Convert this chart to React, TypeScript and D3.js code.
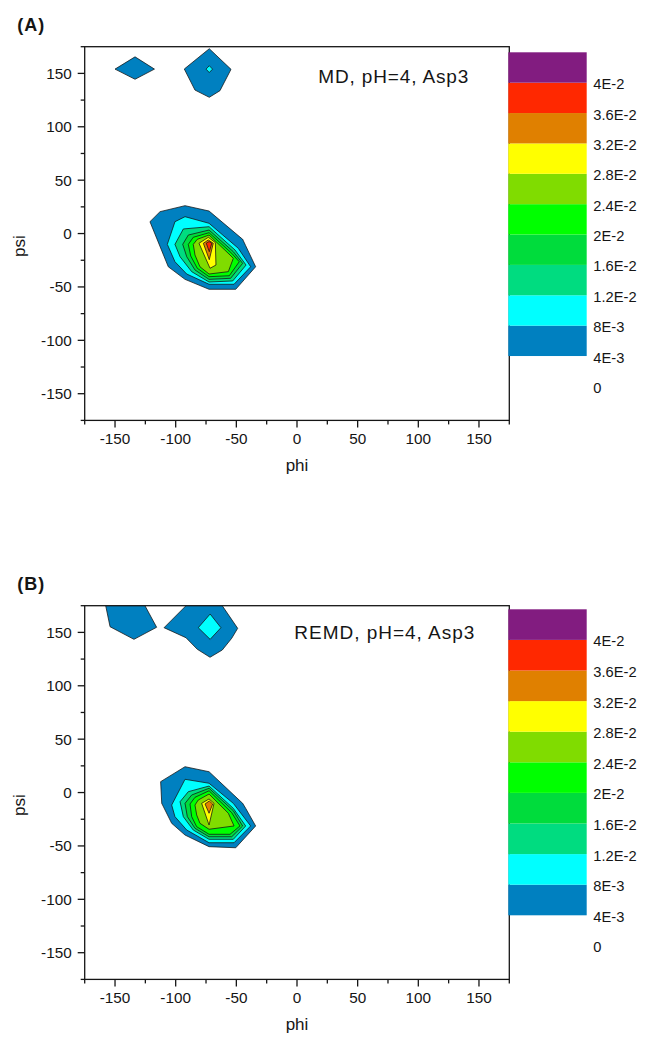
import React from "react";
import * as d3 from "d3";

type Pt = [number, number];

// contour levels, labels and fill colours (level 0 is unfilled)
const levels = [0, 0.004, 0.008, 0.012, 0.016, 0.02, 0.024, 0.028, 0.032, 0.036, 0.04];
const levelLabels = ["0", "4E-3", "8E-3", "1.2E-2", "1.6E-2", "2E-2", "2.4E-2", "2.8E-2", "3.2E-2", "3.6E-2", "4E-2"];
const levelColors = ["#ffffff", "#0080c0", "#00ffff", "#00dc80", "#00dc3c", "#00ff00", "#80dc00", "#ffff00", "#e08000", "#ff2800", "#821c80"];

const majorTicks = [-150, -100, -50, 0, 50, 100, 150];
const minorTicks = [-175, -125, -75, -25, 25, 75, 125, 175];

// ---------- Panel A : MD ----------
const mdTopLeft: Pt[] = [[-150, 154], [-133.5, 165.5], [-117.5, 154], [-133.5, 144.5]];
const mdTopMid: Pt[] = [[-92.9, 154.1], [-72.3, 173.1], [-54.4, 153.8], [-63.5, 133.8], [-72.3, 127.6], [-84.1, 134.4]];
const mdTopMidCore: Pt[] = [[-75.0, 154], [-72.3, 157.2], [-69.6, 154], [-72.3, 150.8]];
const mdL1: Pt[] = [[-121.2, 11.1], [-112.9, 20.5], [-92.3, 26.1], [-72.5, 21.1], [-44.8, -5.4], [-42.3, -11.4], [-34.1, -31.1], [-50.5, -52.2], [-72.5, -52.2], [-92.3, -42.9], [-106.1, -31.1]];
const mdL2: Pt[] = [[-106.9, -10.1], [-100.6, 11.1], [-92.3, 15.8], [-72.5, 9.6], [-48.4, -13.8], [-38.2, -31.1], [-51.9, -47.5], [-72.5, -47.5], [-90.9, -37.9], [-100.6, -26.4]];
const mdL3: Pt[] = [[-100.6, -10.1], [-93.7, 4.3], [-72.5, 6.4], [-51.1, -15.4], [-42.0, -29.5], [-53.0, -44.4], [-72.5, -45.4], [-86.8, -35.7], [-96.4, -21.7]];
const mdL4: Pt[] = [[-94.2, -10.1], [-89.6, -1.4], [-72.5, 3.3], [-52.5, -17.0], [-44.8, -27.9], [-54.7, -41.9], [-72.5, -42.9], [-84.1, -34.1], [-90.9, -21.7]];
const mdL5: Pt[] = [[-89.6, -10.1], [-85.5, -3.5], [-72.5, 0.8], [-53.8, -18.5], [-47.6, -26.4], [-55.8, -39.5], [-72.5, -40.4], [-82.2, -32.5], [-87.6, -21.0]];
const mdL6: Pt[] = [[-85.5, -10.1], [-82.2, -5.4], [-72.5, -1.4], [-55.2, -20.1], [-52.5, -23.2], [-56.6, -35.7], [-72.5, -37.9], [-80.0, -31.1], [-84.1, -20.1]];
const mdL7: Pt[] = [[-80.8, -9.1], [-73.1, -3.5], [-67.3, -8.5], [-66.8, -29.5], [-71.7, -32.5]];
const mdL8: Pt[] = [[-77.2, -9.1], [-73.1, -6.0], [-69.0, -9.1], [-72.3, -24.5]];
const mdL9: Pt[] = [[-74.8, -9.0], [-72.5, -7.5], [-70.2, -9.0], [-72.3, -17.0]];

// ---------- Panel B : REMD ----------
const remdTopLeft: Pt[] = [[-158.6, 180], [-154.1, 155.3], [-134.4, 143.5], [-115.7, 154.8], [-127.7, 180]];
const remdTopMid: Pt[] = [[-109.6, 154.4], [-87.1, 180], [-64.6, 180], [-48.9, 153.8], [-53.8, 144.5], [-61.6, 133.5], [-71.7, 126.7], [-82.2, 134.2], [-91.5, 145]];
const remdTopMidCore: Pt[] = [[-81.4, 154.4], [-71.6, 167.2], [-62.7, 154.4], [-71.6, 143.5]];
const remdL1: Pt[] = [[-112.4, 10.2], [-92.3, 24.2], [-72.5, 19.5], [-44.8, -10.1], [-42.3, -14.8], [-34.1, -31.3], [-50.5, -51.7], [-72.5, -50.7], [-92.3, -39.8], [-103.3, -28.8], [-111.5, -10.1]];
const remdL2: Pt[] = [[-103.3, -11.7], [-92.3, 12.4], [-72.5, 8.7], [-52.5, -10.1], [-38.2, -31.3], [-51.9, -47.0], [-72.5, -47.0], [-90.9, -35.1], [-100.6, -22.6]];
const remdL3: Pt[] = [[-96.4, -8.6], [-89.6, 0.8], [-72.5, 6.1], [-52.5, -14.8], [-42.3, -31.3], [-52.5, -43.8], [-72.5, -43.8], [-85.5, -35.1], [-93.7, -22.6]];
const remdL4: Pt[] = [[-92.3, -10.1], [-86.8, -2.3], [-72.5, 4.0], [-52.5, -17.0], [-44.8, -31.3], [-53.8, -41.4], [-72.5, -41.4], [-84.1, -33.5], [-90.4, -22.6]];
const remdL5: Pt[] = [[-88.2, -10.7], [-84.1, -4.5], [-72.5, 1.7], [-53.8, -18.9], [-47.0, -31.3], [-55.2, -39.1], [-72.5, -39.1], [-82.7, -32.0], [-86.8, -22.6]];
const remdL6: Pt[] = [[-84.1, -11.7], [-81.4, -7.0], [-72.5, -1.4], [-56.6, -19.4], [-51.9, -31.3], [-72.5, -34.4], [-80.0, -28.8], [-82.7, -21.0]];
const remdL7: Pt[] = [[-78.6, -10.1], [-72.5, -6.0], [-68.4, -10.1], [-72.5, -30.4]];
const remdL8: Pt[] = [[-75.8, -10.7], [-72.3, -7.9], [-69.5, -10.7], [-72.5, -19.4]];

type Contour = { level: number; pts: Pt[] };

const mdContours: Contour[] = [
  { level: 1, pts: mdTopLeft }, { level: 1, pts: mdTopMid }, { level: 2, pts: mdTopMidCore },
  { level: 1, pts: mdL1 }, { level: 2, pts: mdL2 }, { level: 3, pts: mdL3 }, { level: 4, pts: mdL4 },
  { level: 5, pts: mdL5 }, { level: 6, pts: mdL6 }, { level: 7, pts: mdL7 }, { level: 8, pts: mdL8 }, { level: 9, pts: mdL9 },
];
const remdContours: Contour[] = [
  { level: 1, pts: remdTopLeft }, { level: 1, pts: remdTopMid }, { level: 2, pts: remdTopMidCore },
  { level: 1, pts: remdL1 }, { level: 2, pts: remdL2 }, { level: 3, pts: remdL3 }, { level: 4, pts: remdL4 },
  { level: 5, pts: remdL5 }, { level: 6, pts: remdL6 }, { level: 7, pts: remdL7 }, { level: 8, pts: remdL8 },
];

const FONT = "'Liberation Sans', Arial, Helvetica, sans-serif";
const X0 = 84.7, X1 = 509.3, PLOT_H = 373.7;
const LEG_X0 = 508.3, LEG_X1 = 586.7, LEG_LABEL_X = 593.3;
const INK = "#151515";

type PanelProps = {
  id: string; frameTop: number; legendTop: number; legendZero: number;
  title: string; titleX: number; titleY: number; titleLen: number;
  tag: string; tagY: number; contours: Contour[];
};

function Panel(p: PanelProps) {
  const frameBottom = p.frameTop + PLOT_H;
  const x = d3.scaleLinear().domain([-175, 175]).range([X0, X1]);
  const y = d3.scaleLinear().domain([-175, 175]).range([frameBottom, p.frameTop]);
  const line = d3.line<Pt>().x((d) => x(d[0])).y((d) => y(d[1])).curve(d3.curveLinearClosed);
  const topVal = levels[10] + (levels[10] - levels[9]);
  const ly = d3.scaleLinear().domain([0, topVal]).range([p.legendZero, p.legendTop]);
  const bands = levels.slice(1).map((lv, i) => ({ lv, next: i + 2 < levels.length ? levels[i + 2] : topVal, color: levelColors[i + 1] }));
  const clipId = `clip-${p.id}`;
  const cy = (p.frameTop + frameBottom) / 2;
  return (
    <g>
      <defs>
        <clipPath id={clipId}>
          <rect x={X0} y={p.frameTop} width={X1 - X0} height={PLOT_H} />
        </clipPath>
      </defs>
      <g clipPath={`url(#${clipId})`}>
        {p.contours.map((c, i) => (
          <path key={i} d={line(c.pts) || ""} fill={levelColors[c.level]} stroke="#111" strokeWidth={0.75} strokeLinejoin="round" />
        ))}
      </g>
      {/* frame */}
      <rect x={X0} y={p.frameTop} width={X1 - X0} height={PLOT_H} fill="none" stroke={INK} strokeWidth={1.3} />
      {/* x ticks */}
      {majorTicks.map((t) => (
        <g key={`xm${t}`}>
          <line x1={x(t)} x2={x(t)} y1={frameBottom} y2={frameBottom + 7} stroke={INK} strokeWidth={1.3} />
          <text x={x(t)} y={frameBottom + 23.8} textAnchor="middle" fontSize={15.3} fontFamily={FONT} fill={INK}>{t}</text>
        </g>
      ))}
      {minorTicks.map((t) => (
        <line key={`xn${t}`} x1={x(t)} x2={x(t)} y1={frameBottom} y2={frameBottom + 4} stroke={INK} strokeWidth={1.3} />
      ))}
      {/* y ticks */}
      {majorTicks.map((t) => (
        <g key={`ym${t}`}>
          <line x1={X0 - 7} x2={X0} y1={y(t)} y2={y(t)} stroke={INK} strokeWidth={1.3} />
          <text x={71.7} y={y(t)} dy="0.36em" textAnchor="end" fontSize={15.3} fontFamily={FONT} fill={INK}>{t}</text>
        </g>
      ))}
      {minorTicks.map((t) => (
        <line key={`yn${t}`} x1={X0 - 4} x2={X0} y1={y(t)} y2={y(t)} stroke={INK} strokeWidth={1.3} />
      ))}
      {/* axis titles */}
      <text x={x(0)} y={frameBottom + 50.4} textAnchor="middle" fontSize={17} fontFamily={FONT} fill={INK}>phi</text>
      <text transform={`translate(25,${cy + 12.5}) rotate(-90)`} textAnchor="middle" fontSize={17} fontFamily={FONT} fill={INK}>psi</text>
      {/* legend */}
      {bands.map((b, i) => (
        <rect key={`b${i}`} x={LEG_X0} y={ly(b.next)} width={LEG_X1 - LEG_X0} height={ly(b.lv) - ly(b.next)} fill={b.color} />
      ))}
      {levels.map((lv, i) => (
        <text key={`l${i}`} x={LEG_LABEL_X} y={ly(lv) + 1.2} dy="0.36em" fontSize={14.7} fontFamily={FONT} fill={INK}>{levelLabels[i]}</text>
      ))}
      {/* title & tag */}
      <text x={p.titleX} y={p.titleY} fontSize={19} fontFamily={FONT} fill={INK} textLength={p.titleLen} lengthAdjust="spacing">{p.title}</text>
      <text x={17.3} y={p.tagY} fontSize={18} fontWeight="bold" fontFamily={FONT} fill={INK} textLength={27} lengthAdjust="spacing">{p.tag}</text>
    </g>
  );
}

export default function App() {
  return (
    <div style={{ position: "absolute", left: 0, top: 0 }}>
      <svg width={654} height={1050} viewBox="0 0 654 1050" style={{ display: "block", background: "#fff" }}>
        <rect x={0} y={0} width={654} height={1050} fill="#fff" />
        <Panel id="a" frameTop={46.7} legendTop={52.3} legendZero={386.4}
          title="MD, pH=4, Asp3" titleX={318.3} titleY={82.7} titleLen={150}
          tag="(A)" tagY={31} contours={mdContours} />
        <Panel id="b" frameTop={605.7} legendTop={609.3} legendZero={945.9}
          title="REMD, pH=4, Asp3" titleX={294.3} titleY={638.6} titleLen={180}
          tag="(B)" tagY={590} contours={remdContours} />
      </svg>
    </div>
  );
}
